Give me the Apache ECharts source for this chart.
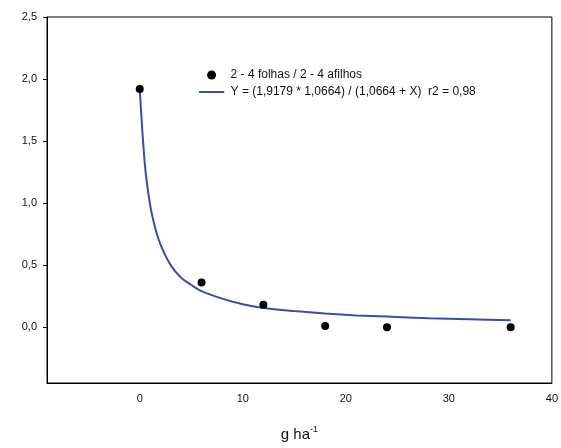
<!DOCTYPE html>
<html><head><meta charset="utf-8">
<script src="https://cdn.jsdelivr.net/npm/echarts@6/dist/echarts.min.js"></script>
<style>html,body{margin:0;padding:0;background:#fff}#c{width:561px;height:448px}</style>
</head><body><div id="c"></div>
<script>
// observed points
const obsX = [0, 6, 12, 18, 24, 36];
const obsY = [1.92, 0.36, 0.18, 0.01, 0.0, 0.0];
// fitted curve
const fitX = [0, 0.5, 1, 1.5, 2, 3, 4, 5, 6, 8, 10, 12, 15, 18, 21, 24, 28, 32, 36];
const fitY = [1.92, 1.31, 0.99, 0.80, 0.67, 0.50, 0.40, 0.34, 0.29, 0.23, 0.185, 0.155, 0.13, 0.11, 0.095, 0.085, 0.072, 0.063, 0.055];
const yTicks = [0, 0.5, 1, 1.5, 2, 2.5];

const chart = echarts.init(document.getElementById('c'));
const axisTxt = { color: '#111', fontFamily: 'Liberation Sans, Arial', fontSize: 11 };
// thin horizontal bar, padded top/bottom so it is not stretched
const lineIcon = 'path://M0,0L28,0L28,0.01L0,0.01Z M0,4L28,4L28,6L0,6Z M0,10L28,10L28,10.01L0,10.01Z';
chart.setOption({
  animation: false,
  grid: { left: 47, right: 8, top: 17, bottom: 65, show: true, borderColor: '#000', borderWidth: 1 },
  legend: {
    orient: 'vertical', left: 194, top: 64, itemGap: 5, itemWidth: 28, itemHeight: 9,
    textStyle: { color: '#111', fontFamily: 'Liberation Sans, Arial', fontSize: 12 },
    data: [{ name: '2 - 4 folhas / 2 - 4 afilhos', icon: 'circle' }, { name: 'Y = (1,9179 * 1,0664) / (1,0664 + X)  r2 = 0,98', icon: lineIcon }]
  },
  xAxis: {
    type: 'value', min: -9, max: 40,
    splitLine: { show: false },
    axisLine: { lineStyle: { color: '#000' }, onZero: false },
    axisTick: { show: false },
    axisLabel: Object.assign({}, axisTxt, { margin: 10, formatter: v => (v >= 0 && v % 10 === 0) ? v : '' }),
    name: '{a|g ha}{s|-1}', nameLocation: 'middle', nameGap: 42,
    nameTextStyle: { rich: { a: { fontSize: 15, color: '#111', fontFamily: 'Liberation Sans, Arial' }, s: { fontSize: 9, color: '#111', verticalAlign: 'top', padding: [0, 0, 10, 0] } } }
  },
  yAxis: {
    type: 'value', min: -0.45, max: 2.5,
    splitLine: { show: false },
    axisLine: { lineStyle: { color: '#000' }, onZero: false },
    axisTick: { show: true, inside: false, length: 4, lineStyle: { color: '#000' }, customValues: yTicks },
    axisLabel: Object.assign({}, axisTxt, { margin: 10, customValues: yTicks, formatter: v => v.toFixed(1).replace('.', ',') })
  },
  series: [
    {
      name: '2 - 4 folhas / 2 - 4 afilhos', type: 'scatter', symbolSize: 8,
      itemStyle: { color: '#000', opacity: 1 }, z: 3,
      data: obsX.map((x, i) => [x, obsY[i]])
    },
    {
      name: 'Y = (1,9179 * 1,0664) / (1,0664 + X)  r2 = 0,98', type: 'line', smooth: 0.3, symbol: 'none',
      lineStyle: { color: '#3b4ea6', width: 2 }, itemStyle: { color: '#3b4ea6' },
      data: fitX.map((x, i) => [x, fitY[i]])
    }
  ]
});
</script></body></html>
